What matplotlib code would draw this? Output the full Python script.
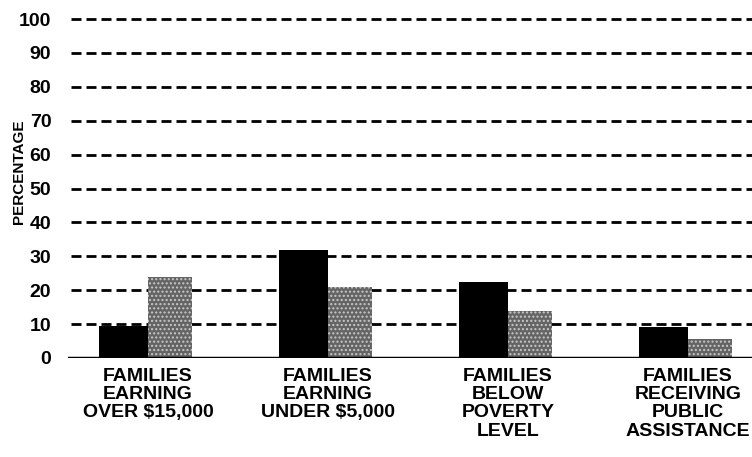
import matplotlib

matplotlib.use("Agg")
import matplotlib.pyplot as plt
import numpy as np

categories = [
    "FAMILIES\nEARNING\nOVER $15,000",
    "FAMILIES\nEARNING\nUNDER $5,000",
    "FAMILIES\nBELOW\nPOVERTY\nLEVEL",
    "FAMILIES\nRECEIVING\nPUBLIC\nASSISTANCE",
]
dark_values = [9.5, 32, 22.5, 9]
light_values = [24, 21, 14, 5.5]
y_ticks = [0, 10, 20, 30, 40, 50, 60, 70, 80, 90, 100]

plt.rcParams["font.family"] = ["Liberation Sans", "DejaVu Sans"]
plt.rcParams["font.weight"] = "bold"

fig = plt.figure(figsize=(7.52, 4.57), dpi=100)
ax = fig.add_axes([68 / 752, 99 / 457, 684 / 752, 339 / 457])

x = np.arange(len(categories))
dark_w, light_w = 0.27, 0.245
ax.bar(x - dark_w, dark_values, width=dark_w, align="edge", color="black", zorder=3)
ax.bar(x, light_values, width=light_w, align="edge",
       color="#646464", edgecolor="#c8c8c8", hatch="....", linewidth=0, zorder=3)

for value in y_ticks[1:]:
    ax.axhline(value, color="black", linewidth=2, linestyle=(0, (3.6, 1.8)),
               zorder=1, clip_on=False, xmin=0.005)
ax.axhline(0, color="black", linewidth=2.5, zorder=4)

ax.set_xlim(-0.444, 3.356)
ax.set_ylim(0, 100)
ax.set_yticks(y_ticks)
ax.set_yticklabels([str(v) for v in y_ticks], fontsize=14, fontweight="bold")
ax.set_xticks(x)
ax.set_xticklabels(categories, fontsize=14, fontweight="bold", linespacing=1.1)
ax.tick_params(axis="both", length=0)
ax.tick_params(axis="y", pad=12)
ax.tick_params(axis="x", pad=7)
ax.set_ylabel("PERCENTAGE", fontsize=11, fontweight="bold")
ax.yaxis.set_label_coords(-0.062, 0.55)
for spine in ax.spines.values():
    spine.set_visible(False)

fig.savefig("out.png", dpi=100)
plt.close(fig)
